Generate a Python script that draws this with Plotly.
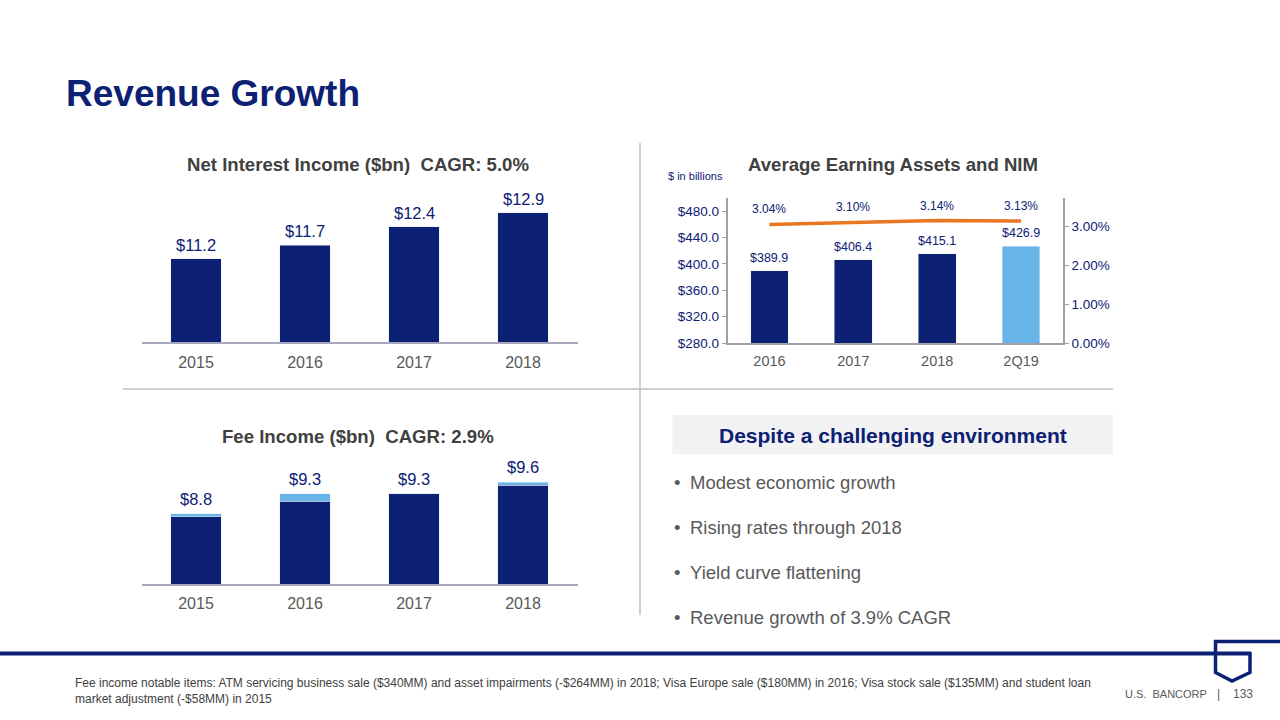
import plotly.graph_objects as go

W, H = 1280, 720
FONT = "Liberation Sans, Arial, sans-serif"
NAVY = "#0C2074"
LIGHT = "#68B3E8"
ORANGE = "#E87722"
GRAY_TXT = "#595959"
TITLE_TXT = "#404040"


def px(x):
    return x / W


def py(y):
    return 1 - y / H


# ---------------- data ----------------
nii_years = ["2015", "2016", "2017", "2018"]
nii_values = [11.2, 11.7, 12.4, 12.9]

aea_periods = ["2016", "2017", "2018", "2Q19"]
aea_values = [389.9, 406.4, 415.1, 426.9]
nim_values = [3.04, 3.10, 3.14, 3.13]
aea_ticks = [280, 320, 360, 400, 440, 480]
nim_ticks = [0, 1, 2, 3]

fee_years = ["2015", "2016", "2017", "2018"]
fee_core = [8.72, 9.12, 9.30, 9.52]
fee_notable = [0.08, 0.18, 0.00, 0.08]
fee_totals = [8.8, 9.3, 9.3, 9.6]

bullets = [
    "Modest economic growth",
    "Rising rates through 2018",
    "Yield curve flattening",
    "Revenue growth of 3.9% CAGR",
]

aea_colors = [NAVY, NAVY, NAVY, LIGHT]

fig = go.Figure()

# Net interest income
fig.add_trace(go.Bar(x=nii_years, y=nii_values, xaxis="x", yaxis="y",
                     marker_color=NAVY, width=0.46, showlegend=False))

# Average earning assets + NIM
fig.add_trace(go.Bar(x=aea_periods, y=aea_values, xaxis="x2", yaxis="y2",
                     marker_color=aea_colors, width=0.45, showlegend=False))
fig.add_trace(go.Scatter(x=aea_periods, y=nim_values, xaxis="x2", yaxis="y3",
                         mode="lines", line=dict(color=ORANGE, width=3.5),
                         showlegend=False))

# Fee income (stacked)
fig.add_trace(go.Bar(x=fee_years, y=fee_core, xaxis="x3", yaxis="y4",
                     marker_color=NAVY, width=0.46, showlegend=False))
fig.add_trace(go.Bar(x=fee_years, y=fee_notable, xaxis="x3", yaxis="y4",
                     marker_color=LIGHT, width=0.46, showlegend=False))

annotations = []


def label(x, y, txt, xref, yref, size, shift, color=NAVY):
    annotations.append(dict(x=x, y=y, xref=xref, yref=yref, text=txt,
                            showarrow=False, yanchor="middle", yshift=shift,
                            font=dict(family=FONT, size=size, color=color)))


# category axes: positions are the category indices
for i, v in enumerate(nii_values):
    label(i, v, f"${v:.1f}", "x", "y", 16.5, 14)
for i, v in enumerate(aea_values):
    label(i, v, f"${v:.1f}", "x2", "y2", 12.5, 13)
for i, v in enumerate(nim_values):
    label(i, v, f"{v:.2f}%", "x2", "y3", 12, 15)
for i, v in enumerate(fee_totals):
    label(i, v, f"${v:.1f}", "x3", "y4", 16.5, 15)


def text(x, y, t, size, color, xanchor="center", bold=False):
    annotations.append(dict(x=px(x), y=py(y), xref="paper", yref="paper",
                            text=f"<b>{t}</b>" if bold else t, showarrow=False,
                            xanchor=xanchor, yanchor="middle",
                            font=dict(family=FONT, size=size, color=color)))


text(64, 94, "Revenue Growth", 37, NAVY, "left", True)
text(358, 165, "Net Interest Income ($bn)  CAGR: 5.0%", 18.6, TITLE_TXT, bold=True)
text(893, 165, "Average Earning Assets and NIM", 18.6, TITLE_TXT, bold=True)
text(666, 176, "$ in billions", 11, NAVY, "left")
text(358, 437, "Fee Income ($bn)  CAGR: 2.9%", 18.6, TITLE_TXT, bold=True)
text(893, 436, "Despite a challenging environment", 21, NAVY, bold=True)
for i, b in enumerate(bullets):
    yy = 483 + i * 44.7
    text(672, yy, "•", 18.5, GRAY_TXT, "left")
    text(688, yy, b, 18.5, GRAY_TXT, "left")

annotations.append(dict(
    x=px(73), y=py(691), xref="paper", yref="paper", showarrow=False,
    xanchor="left", yanchor="middle", align="left",
    text=("Fee income notable items: ATM servicing business sale ($340MM) and asset impairments "
          "(-$264MM) in 2018; Visa Europe sale ($180MM) in 2016; Visa stock sale ($135MM) and student loan"
          "<br>market adjustment (-$58MM) in 2015"),
    font=dict(family=FONT, size=12, color=TITLE_TXT)))
text(1209, 694, "U.S.  BANCORP", 11, GRAY_TXT, "right")
text(1218, 694, "|", 12, GRAY_TXT)
text(1231, 694, "133", 12, GRAY_TXT, "left")

shapes = []


def line(x0, y0, x1, y1, color, width):
    shapes.append(dict(type="line", xref="paper", yref="paper",
                       x0=px(x0), y0=py(y0), x1=px(x1), y1=py(y1),
                       line=dict(color=color, width=width)))


line(640, 143, 640, 615, "#BFBFBF", 1.5)
line(123, 389, 1113, 389, "#BFBFBF", 1.5)
shapes.append(dict(type="rect", xref="paper", yref="paper", layer="below",
                   x0=px(672.5), x1=px(1113), y0=py(454), y1=py(415),
                   fillcolor="#F2F2F2", line=dict(width=0)))

# footer rule and logo
line(0, 653.5, 1251, 653.5, NAVY, 4)
logo_pts = [(1280, 641.5), (1215.5, 641.5), (1215.5, 672.5), (1232, 681),
            (1250, 672.5), (1250, 652)]
path = "M " + " L ".join(f"{px(a):.5f},{py(b):.5f}" for a, b in logo_pts)
shapes.append(dict(type="path", xref="paper", yref="paper", path=path,
                   line=dict(color=NAVY, width=3.5)))


def xaxis_style(domain, anchor, cats, color, size, standoff):
    return dict(type="category", categoryorder="array", categoryarray=cats,
                range=[-0.5, len(cats) - 0.5], autorange=False,
                domain=domain, anchor=anchor, showgrid=False, zeroline=False,
                ticks="", showline=True, linecolor=color, linewidth=1.5,
                ticklabelstandoff=standoff,
                automargin=False, tickfont=dict(size=size, color=GRAY_TXT))


fig.update_layout(
    width=W, height=H, margin=dict(l=0, r=0, t=0, b=0, autoexpand=False),
    paper_bgcolor="white", plot_bgcolor="rgba(0,0,0,0)",
    barmode="stack", showlegend=False, autotypenumbers="strict",
    font=dict(family=FONT),
    xaxis=xaxis_style([px(141.5), px(577.5)], "y", nii_years, "#A6A6BF", 16, 5),
    yaxis=dict(domain=[py(342), py(190)], range=[8.13, 13.75], visible=False),
    xaxis2=xaxis_style([px(727.5), px(1063)], "y2", aea_periods, "#A0A0A8", 14.5, 4),
    yaxis2=dict(domain=[py(343), py(198)], range=[280, 500], anchor="x2",
                tickmode="array", tickvals=aea_ticks,
                ticktext=[f"${t:.1f}" for t in aea_ticks], automargin=False,
                showline=True, linecolor="#A0A0A8", linewidth=1.5,
                ticks="outside", ticklen=4, tickcolor="#A0A0A8", showgrid=False,
                zeroline=False, tickfont=dict(size=13.5, color=NAVY)),
    yaxis3=dict(overlaying="y2", side="right", anchor="x2", range=[0, 3.718],
                tickmode="array", tickvals=nim_ticks,
                ticktext=[f"{t:.2f}%" for t in nim_ticks], automargin=False,
                showline=True, linecolor="#A0A0A8", linewidth=1.5, ticks="outside",
                ticklen=4, tickcolor="#A0A0A8", showgrid=False, zeroline=False,
                tickfont=dict(size=13.5, color=NAVY)),
    xaxis3=xaxis_style([px(141.5), px(577.5)], "y4", fee_years, "#A6A6BF", 16, 4),
    yaxis4=dict(domain=[py(584), py(470)], range=[7.02, 9.906], visible=False),
    annotations=annotations,
    shapes=shapes,
)

fig.write_html("out.html",
               config={"displayModeBar": False},
               post_script="document.body.style.margin='0px';"
                           "document.body.style.overflow='hidden';")
